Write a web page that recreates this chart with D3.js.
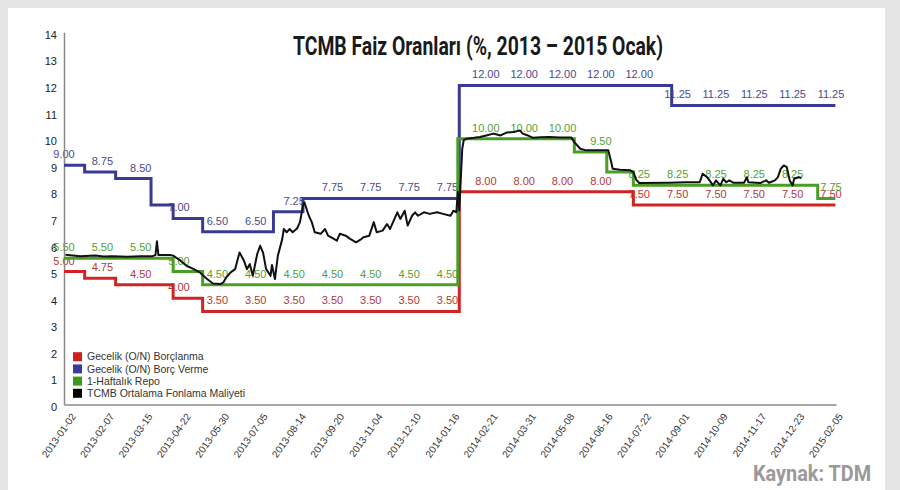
<!DOCTYPE html>
<html>
<head>
<meta charset="utf-8">
<script src="https://cdn.jsdelivr.net/npm/d3@7/dist/d3.min.js"></script>
<style>
  html, body { margin: 0; padding: 0; background: #fff; }
  svg { display: block; }
</style>
</head>
<body>
<svg id="chart" width="900" height="490"></svg>
<script>
// ---------------- DATA ----------------
// x axis: trading-day index, one date label every 26 trading days
const tickLabels = ["2013-01-02","2013-02-07","2013-03-15","2013-04-22","2013-05-30","2013-07-05",
  "2013-08-14","2013-09-20","2013-11-04","2013-12-10","2014-01-16","2014-02-21","2014-03-31",
  "2014-05-08","2014-06-16","2014-07-22","2014-09-01","2014-10-09","2014-11-17","2014-12-23","2015-02-05"];
const daysPerTick = 26;
const lastDay = 523;
const yTicks = [0,1,2,3,4,5,6,7,8,9,10,11,12,13,14];

// Gecelik (O/N) Borçlanma: day index where a rate starts, and the rate
const borrowStart = [0, 14, 35, 74, 94, 268, 386];
const borrowRate  = [5.00, 4.75, 4.50, 4.00, 3.50, 8.00, 7.50];

// Gecelik (O/N) Borç Verme
const lendStart = [0, 14, 35, 59, 74, 94, 142, 162, 268, 412];
const lendRate  = [9.00, 8.75, 8.50, 7.50, 7.00, 6.50, 7.25, 7.75, 12.00, 11.25];

// 1-Haftalık Repo
const repoStart = [0, 74, 94, 267, 346, 368, 386, 511];
const repoRate  = [5.50, 5.00, 4.50, 10.00, 9.50, 8.75, 8.25, 7.75];

// TCMB Ortalama Fonlama Maliyeti
const fundDay = [1,11,21,27,33,43,52,60,62,63,64,72,74,79,83,88,92,97,101,106,108,110,113,116,119,122,124,126,128,131,
  133,135,137,140,141,143,145,148,149,151,153,155,158,160,162,163,166,168,170,174,177,179,183,185,187,191,194,198,201,203,
  207,210,212,216,219,221,226,228,231,233,236,238,240,244,248,253,257,262,264,266,267,268,270,271,273,278,282,287,291,296,
  300,305,309,311,314,318,323,329,336,344,346,350,354,363,369,371,372,377,384,386,388,390,410,422,431,433,436,438,440,442,
  445,447,449,451,454,458,461,463,464,472,476,478,482,484,486,488,490,491,492,494,495,498,500];
const fundRate = [5.63,5.58,5.60,5.57,5.58,5.56,5.58,5.58,5.62,6.14,5.62,5.62,5.60,5.41,5.22,5.09,4.97,4.72,4.55,4.53,4.59,4.78,4.97,5.09,5.72,5.41,5.09,5.28,4.84,5.66,
  5.97,5.70,5.10,4.84,5.25,4.72,5.60,6.23,6.60,6.48,6.60,6.48,6.62,6.86,7.48,7.60,7.10,6.86,6.48,6.42,6.60,6.35,6.23,6.16,6.42,6.35,6.23,6.10,6.20,6.29,
  6.35,6.86,6.48,6.54,6.79,6.60,7.23,6.98,7.29,6.73,7.10,7.23,7.10,7.23,7.17,7.23,7.17,7.10,7.29,7.23,8.00,7.30,9.62,9.94,10.00,10.03,10.06,10.13,10.19,10.12,
  10.23,10.25,10.31,10.19,10.13,10.03,10.05,10.06,10.04,10.04,9.87,9.62,9.56,9.56,9.56,9.12,8.87,8.83,8.81,8.74,8.45,8.33,8.34,8.36,8.36,8.68,8.55,8.40,8.24,8.43,
  8.24,8.49,8.36,8.43,8.34,8.34,8.34,8.55,8.36,8.33,8.43,8.34,8.43,8.55,8.87,8.99,8.93,8.68,8.43,8.24,8.49,8.55,8.52];

const seriesNames = ["Gecelik (O/N) Borçlanma", "Gecelik (O/N) Borç Verme", "1-Haftalık Repo", "TCMB Ortalama Fonlama Maliyeti"];
const titleText = "TCMB Faiz Oranları (%, 2013 – 2015 Ocak)";
const sourceText = "Kaynak: TDM";

// ---------------- DRAW ----------------
const svg = d3.select("#chart");
const W = 900, H = 490;

// frame
svg.append("rect").attr("x",0).attr("y",0).attr("width",W).attr("height",H).attr("fill","#e4e4e4");
svg.append("rect").attr("x",8).attr("y",8).attr("width",877).attr("height",H-8).attr("fill","#ffffff");

const x = d3.scaleLinear().domain([0, 523.4]).range([64, 836]);
const y = d3.scaleLinear().domain([0, 14]).range([404.5, 32.3]);

const steps = [
  {name: seriesNames[0], start: borrowStart, rate: borrowRate, color: "#d02424", text: "#b33838"},
  {name: seriesNames[1], start: lendStart,   rate: lendRate,   color: "#3a3a96", text: "#4a4a8e"},
  {name: seriesNames[2], start: repoStart,   rate: repoRate,   color: "#4a9e26", text: "#54a032"}
];

// value labels at every date tick (drawn under the lines)
const tickDays = tickLabels.map((d, k) => k * daysPerTick);
const lblG = svg.append("g").attr("font-family", "'Liberation Sans', Arial, sans-serif").attr("font-size", "11px");
steps.forEach(s => {
  tickDays.forEach(td => {
    let j = 0;
    for (let m = 0; m < s.start.length; m++) if (s.start[m] <= td) j = m;
    const v = s.rate[j];
    lblG.append("text")
      .attr("x", x(td)).attr("y", y(v) - 7)
      .attr("text-anchor", "middle")
      .attr("fill", s.text)
      .text(v.toFixed(2));
  });
});

// axes
const xAxis = d3.axisBottom(x).tickValues(tickDays).tickFormat((d, k) => tickLabels[k]).tickSize(0).tickPadding(0);
const gx = svg.append("g").attr("transform", "translate(0,404.5)").call(xAxis);
gx.select(".domain").attr("stroke", "#8a8a8a").attr("stroke-width", 1.5);
gx.selectAll("text")
  .attr("font-family", "'Liberation Sans', Arial, sans-serif").attr("font-size", "10px").attr("fill", "#333")
  .attr("text-anchor", "end")
  .attr("transform", d => `translate(9,10) rotate(-55)`)
  .attr("x", 0).attr("y", 0).attr("dy", "0.35em");
gx.selectAll(".tick text").each(function(d) {
  d3.select(this).attr("transform", `translate(9,10) rotate(-55)`);
});

const yAxis = d3.axisLeft(y).tickValues(yTicks).tickSize(0).tickPadding(7);
const gy = svg.append("g").attr("transform", "translate(64,0)").call(yAxis);
gy.select(".domain").attr("stroke", "#8a8a8a").attr("stroke-width", 1.5);
gy.selectAll("text").attr("font-family", "'Liberation Sans', Arial, sans-serif").attr("font-size", "11px").attr("fill", "#222").attr("dy", "0.55em");

// step lines
const stepLine = d3.line().x(d => x(d[0])).y(d => y(d[1])).curve(d3.curveStepAfter);
steps.forEach(s => {
  const pts = s.start.map((d, i) => [d, s.rate[i]]);
  pts.push([lastDay, s.rate[s.rate.length - 1]]);
  svg.append("path").datum(pts)
    .attr("d", stepLine)
    .attr("fill", "none").attr("stroke", s.color).attr("stroke-width", 3)
    .attr("stroke-linejoin", "miter");
});

// average funding cost
const fundLine = d3.line().x(d => x(d[0])).y(d => y(d[1]));
svg.append("path").datum(fundDay.map((d, i) => [d, fundRate[i]]))
  .attr("d", fundLine)
  .attr("fill", "none").attr("stroke", "#111").attr("stroke-width", 2).attr("stroke-linejoin", "round");

// legend
const legendColors = ["#cc1f1f", "#3b3b9b", "#3a9a1a", "#000000"];
const lg = svg.append("g").attr("font-family", "'Liberation Sans', Arial, sans-serif").attr("font-size", "10.5px");
seriesNames.forEach((n, i) => {
  const cy = 356.7 + i * 12.2;
  lg.append("rect").attr("x", 73).attr("y", cy - 4.5).attr("width", 9).attr("height", 9).attr("fill", legendColors[i]);
  lg.append("text").attr("x", 87).attr("y", cy).attr("dy", "0.35em").attr("fill", "#333").text(n);
});

// title
svg.append("text")
  .attr("x", 478).attr("y", 55)
  .attr("text-anchor", "middle")
  .attr("font-family", "Roboto, 'Liberation Sans', sans-serif").attr("font-weight", "bold").attr("font-size", "25px")
  .attr("fill", "#1a1a1a")
  .attr("textLength", 370).attr("lengthAdjust", "spacingAndGlyphs")
  .text(titleText);

// source
svg.append("text")
  .attr("x", 871).attr("y", 481)
  .attr("text-anchor", "end")
  .attr("font-family", "Roboto, 'Liberation Sans', sans-serif").attr("font-weight", "bold").attr("font-size", "22px")
  .attr("fill", "#9a9a9a")
  .attr("textLength", 118).attr("lengthAdjust", "spacingAndGlyphs")
  .text(sourceText);
</script>
</body>
</html>
